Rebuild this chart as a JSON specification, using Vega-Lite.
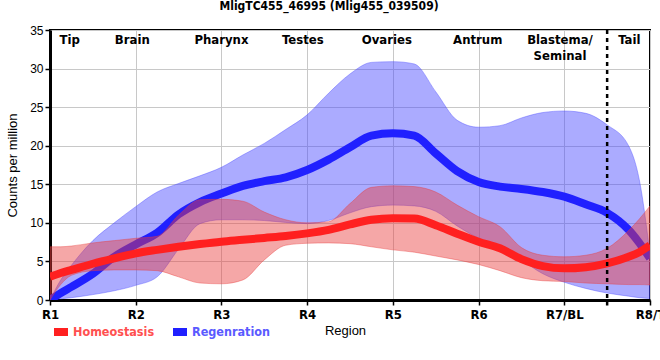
{
  "$schema": "https://vega.github.io/schema/vega-lite/v6.json",
  "width": 600,
  "height": 270,
  "autosize": {"type": "none"},
  "padding": {"left": 50, "top": 30, "right": 10, "bottom": 60},
  "title": {"text": "MligTC455_46995 (Mlig455_039509)", "font": "DejaVu Sans Condensed, sans-serif", "fontSize": 12, "fontWeight": "bold", "color": "black", "anchor": "middle", "dx": -21, "offset": 11},
  "config": {
    "view": {"stroke": "black", "strokeWidth": 2},
    "axis": {"gridColor": "#c8c8c8", "gridWidth": 1, "domainColor": "black", "domainWidth": 3, "tickColor": "black", "tickSize": 5, "tickWidth": 1.5, "labelColor": "black", "titleColor": "black"},
    "axisY": {"tickCount": 8, "labelFont": "Liberation Sans, Arial, sans-serif", "labelFontSize": 12, "labelPadding": 2, "labelOverlap": false, "titleFont": "Liberation Sans, Arial, sans-serif", "titleFontWeight": "normal", "titleFontSize": 13, "titlePadding": 10}
  },
  "datasets": {
    "curves": [
      {"x": 1, "hm": 3.0, "hlo": 0, "hhi": 6.9, "rm": 0, "rlo": 0, "rhi": 0},
      {"x": 1.125, "hm": 3.5, "hlo": 2.0, "hhi": 6.9, "rm": 0.9, "rlo": 0.15, "rhi": 2.6},
      {"x": 1.25, "hm": 3.9, "hlo": 3.2, "hhi": 7.0, "rm": 1.7, "rlo": 0.3, "rhi": 4.5},
      {"x": 1.5, "hm": 4.7, "hlo": 3.8, "hhi": 7.4, "rm": 3.4, "rlo": 0.7, "rhi": 7.7},
      {"x": 1.75, "hm": 5.4, "hlo": 3.9, "hhi": 7.7, "rm": 5.6, "rlo": 1.2, "rhi": 10.0},
      {"x": 2, "hm": 6.05, "hlo": 3.9, "hhi": 8.0, "rm": 7.2, "rlo": 1.9, "rhi": 12.1},
      {"x": 2.25, "hm": 6.5, "hlo": 3.8, "hhi": 8.25, "rm": 8.7, "rlo": 3.0, "rhi": 14.0},
      {"x": 2.5, "hm": 6.9, "hlo": 3.0, "hhi": 11.0, "rm": 11.1, "rlo": 6.6, "rhi": 15.1},
      {"x": 2.75, "hm": 7.25, "hlo": 2.2, "hhi": 13.0, "rm": 12.7, "rlo": 9.9, "rhi": 16.1},
      {"x": 3, "hm": 7.56, "hlo": 2.1, "hhi": 13.05, "rm": 13.8, "rlo": 10.4, "rhi": 17.2},
      {"x": 3.25, "hm": 7.8, "hlo": 2.6, "hhi": 12.8, "rm": 14.8, "rlo": 10.4, "rhi": 18.8},
      {"x": 3.5, "hm": 8.05, "hlo": 5.2, "hhi": 11.4, "rm": 15.4, "rlo": 10.3, "rhi": 20.3},
      {"x": 3.75, "hm": 8.3, "hlo": 7.1, "hhi": 10.4, "rm": 15.9, "rlo": 10.05, "rhi": 22.1},
      {"x": 4, "hm": 8.64, "hlo": 7.35, "hhi": 10.0, "rm": 16.85, "rlo": 9.9, "rhi": 24.0},
      {"x": 4.25, "hm": 9.1, "hlo": 7.4, "hhi": 10.15, "rm": 18.2, "rlo": 10.3, "rhi": 26.8},
      {"x": 4.5, "hm": 9.8, "hlo": 7.3, "hhi": 12.5, "rm": 19.8, "rlo": 11.3, "rhi": 29.3},
      {"x": 4.75, "hm": 10.4, "hlo": 6.9, "hhi": 14.6, "rm": 21.3, "rlo": 12.1, "rhi": 30.8},
      {"x": 5, "hm": 10.6, "hlo": 6.5, "hhi": 14.8, "rm": 21.6, "rlo": 12.3, "rhi": 30.9},
      {"x": 5.25, "hm": 10.55, "hlo": 6.2, "hhi": 14.7, "rm": 21.3, "rlo": 12.2, "rhi": 30.6},
      {"x": 5.5, "hm": 9.7, "hlo": 5.7, "hhi": 14.0, "rm": 19.0, "rlo": 11.5, "rhi": 27.0},
      {"x": 5.75, "hm": 8.6, "hlo": 5.2, "hhi": 12.3, "rm": 16.7, "rlo": 9.6, "rhi": 23.3},
      {"x": 6, "hm": 7.56, "hlo": 4.6, "hhi": 10.8, "rm": 15.3, "rlo": 8.0, "rhi": 22.4},
      {"x": 6.25, "hm": 6.7, "hlo": 3.8, "hhi": 9.5, "rm": 14.7, "rlo": 6.9, "rhi": 22.6},
      {"x": 6.5, "hm": 5.3, "hlo": 2.9, "hhi": 6.8, "rm": 14.4, "rlo": 5.2, "rhi": 23.6},
      {"x": 6.75, "hm": 4.4, "hlo": 2.5, "hhi": 5.8, "rm": 14.0, "rlo": 3.4, "rhi": 24.3},
      {"x": 7, "hm": 4.1, "hlo": 2.4, "hhi": 5.6, "rm": 13.4, "rlo": 2.3, "rhi": 24.5},
      {"x": 7.25, "hm": 4.25, "hlo": 2.2, "hhi": 5.8, "rm": 12.4, "rlo": 1.5, "rhi": 24.2},
      {"x": 7.5, "hm": 4.75, "hlo": 2.1, "hhi": 6.7, "rm": 11.3, "rlo": 0.9, "rhi": 22.7},
      {"x": 7.75, "hm": 5.6, "hlo": 2.0, "hhi": 9.0, "rm": 9.1, "rlo": 0.5, "rhi": 20.0},
      {"x": 7.875, "hm": 6.2, "hlo": 2.0, "hhi": 10.5, "rm": 7.4, "rlo": 0.3, "rhi": 15.6},
      {"x": 8, "hm": 7.1, "hlo": 1.95, "hhi": 12.2, "rm": 5.4, "rlo": 0.2, "rhi": 6.0}
    ],
    "regions": [
      {"x": 1.23, "label": "Tip"},
      {"x": 1.96, "label": "Brain"},
      {"x": 3.0, "label": "Pharynx"},
      {"x": 3.95, "label": "Testes"},
      {"x": 4.93, "label": "Ovaries"},
      {"x": 5.99, "label": "Antrum"},
      {"x": 6.95, "label": "Blastema/\nSeminal"},
      {"x": 7.76, "label": "Tail"}
    ],
    "divider": [{"x": 7.5}]
  },
  "encoding": {
    "x": {
      "field": "x", "type": "quantitative",
      "scale": {"domain": [1, 8], "nice": false, "zero": false},
      "axis": {
        "values": [1, 2, 3, 4, 5, 6, 7, 8],
        "labelExpr": "['R1','R2','R3','R4','R5','R6','R7/BL','R8/T'][datum.value - 1]",
        "labelFont": "DejaVu Sans Condensed, sans-serif",
        "labelFontWeight": "bold", "labelFontSize": 13, "labelFlush": false, "labelOverlap": false, "labelPadding": 3,
        "title": "Region", "titleFont": "Liberation Sans, Arial, sans-serif", "titleFontWeight": "normal", "titleFontSize": 13,
        "titlePadding": 3, "titleX": 295
      }
    }
  },
  "layer": [
    {
      "data": {"name": "curves"},
      "mark": {"type": "area", "interpolate": "monotone", "fill": "#4545ff", "fillOpacity": 0.45, "stroke": "#4545ff", "strokeOpacity": 0.4, "strokeWidth": 1, "clip": true},
      "encoding": {
        "y": {"field": "rhi", "type": "quantitative", "scale": {"domain": [0, 35], "nice": false}, "title": "Counts per million"},
        "y2": {"field": "rlo"}
      }
    },
    {
      "data": {"name": "curves"},
      "mark": {"type": "line", "interpolate": "monotone", "strokeWidth": 8, "clip": true},
      "encoding": {
        "y": {"field": "rm", "type": "quantitative", "title": "Counts per million"},
        "color": {"datum": "Regenration", "type": "nominal",
          "scale": {"domain": ["Homeostasis", "Regenration"], "range": ["#ff2020", "#2020ff"]},
          "legend": {"orient": "none", "legendX": 0, "legendY": 291, "direction": "horizontal", "title": null,
            "symbolType": "stroke", "symbolStrokeWidth": 8, "symbolSize": 196, "columnPadding": 2, "labelOffset": 1,
            "labelFont": "DejaVu Sans Condensed, sans-serif", "labelFontWeight": "bold", "labelFontSize": 12.5,
            "labelColor": {"expr": "datum.label == 'Homeostasis' ? '#ff5050' : '#5a5aff'"}}
        }
      }
    },
    {
      "data": {"name": "curves"},
      "mark": {"type": "area", "interpolate": "monotone", "fill": "#e83c3c", "fillOpacity": 0.45, "stroke": "#e83c3c", "strokeOpacity": 0.4, "strokeWidth": 1, "clip": true},
      "encoding": {
        "y": {"field": "hhi", "type": "quantitative", "title": "Counts per million"},
        "y2": {"field": "hlo"}
      }
    },
    {
      "data": {"name": "curves"},
      "mark": {"type": "line", "interpolate": "monotone", "strokeWidth": 8, "clip": true},
      "encoding": {
        "y": {"field": "hm", "type": "quantitative", "title": "Counts per million"},
        "color": {"datum": "Homeostasis", "type": "nominal"}
      }
    },
    {
      "data": {"name": "divider"},
      "mark": {"type": "rule", "color": "black", "strokeWidth": 2.5, "strokeDash": [4, 4]},
      "encoding": {
        "y": {"datum": 35, "type": "quantitative", "title": "Counts per million"},
        "y2": {"datum": -0.7}
      }
    },
    {
      "data": {"name": "regions"},
      "mark": {"type": "text", "baseline": "top", "align": "center", "dy": 4, "lineBreak": "\n", "lineHeight": 16,
        "font": "DejaVu Sans Condensed, sans-serif", "fontWeight": "bold", "fontSize": 13, "color": "black"},
      "encoding": {
        "y": {"datum": 35, "type": "quantitative", "title": "Counts per million"},
        "text": {"field": "label"}
      }
    }
  ]
}
